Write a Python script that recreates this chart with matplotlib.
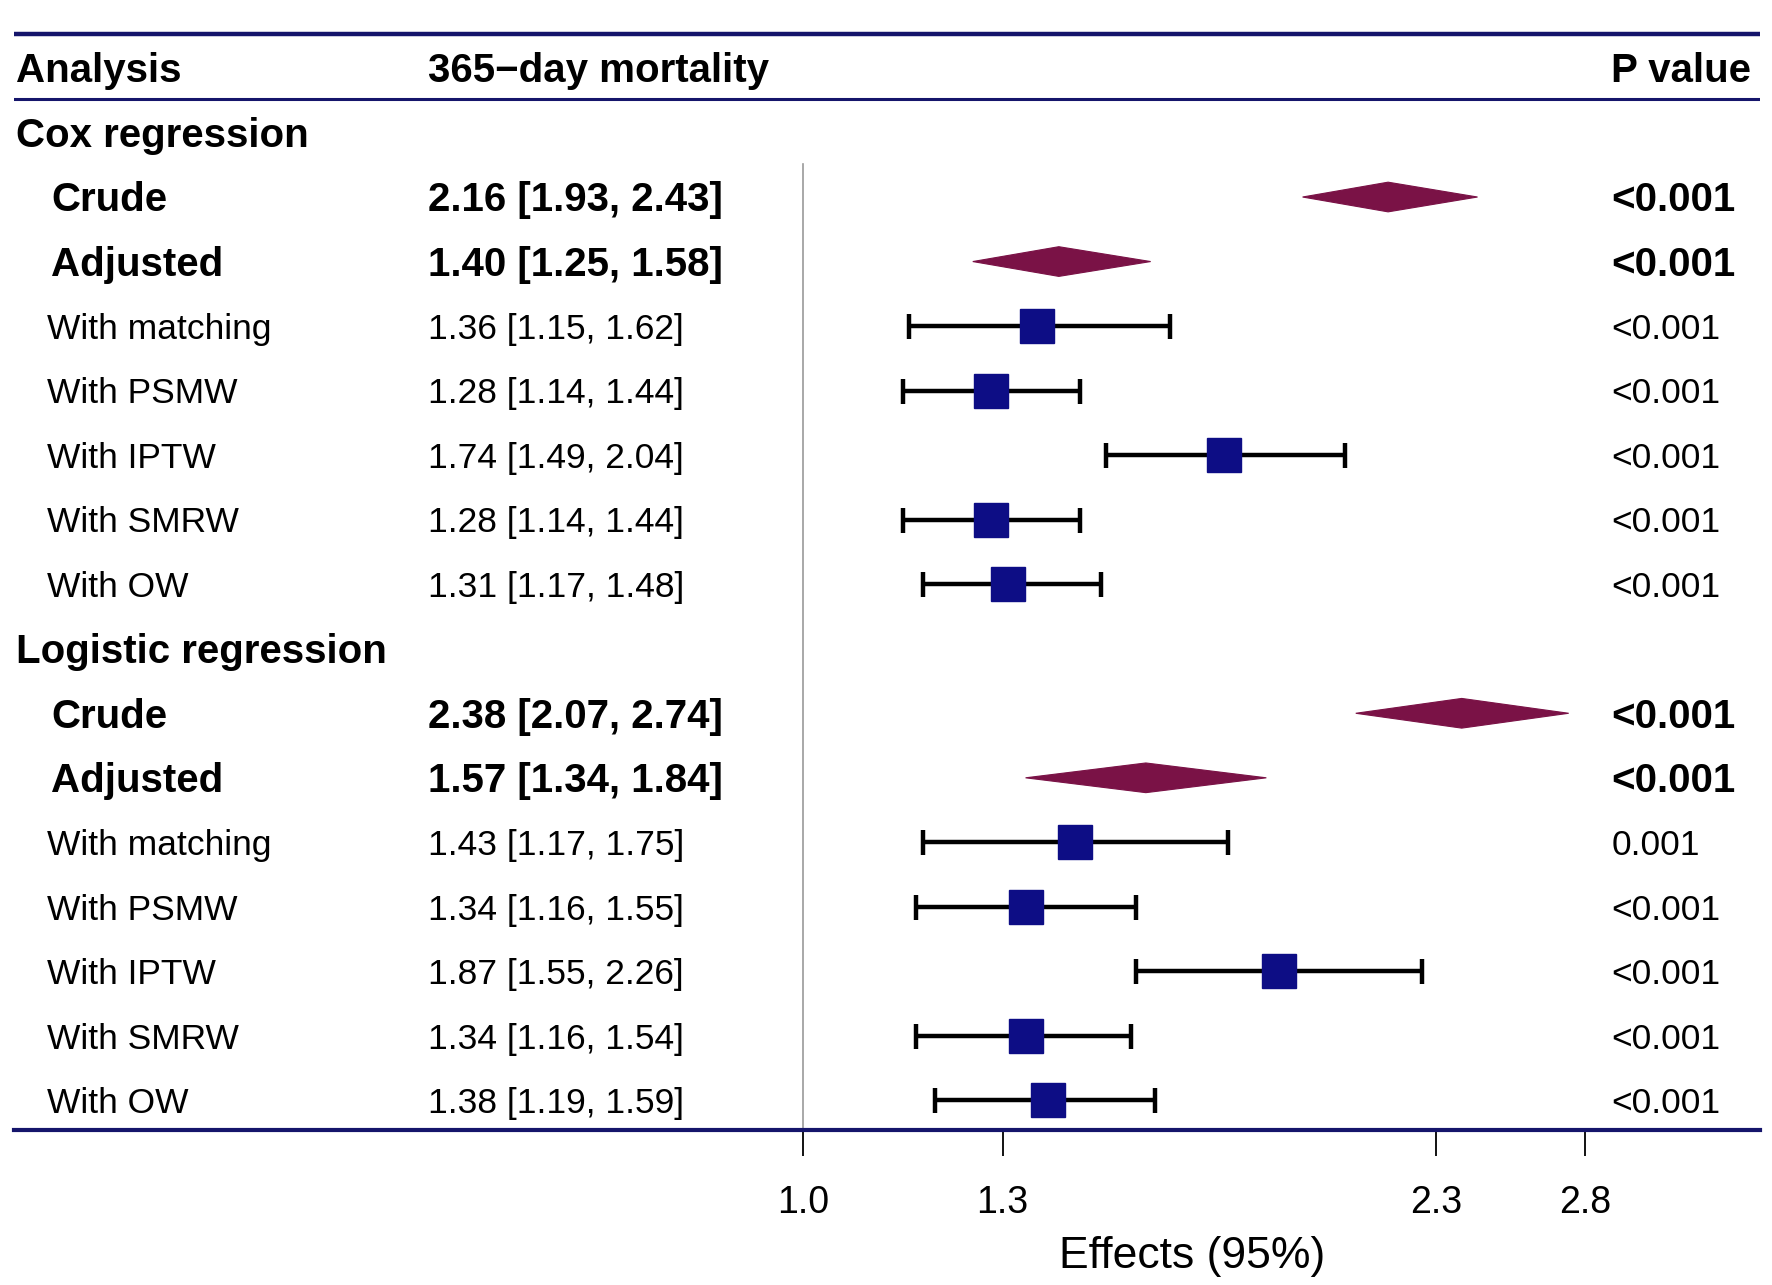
import numpy as np
import matplotlib
matplotlib.use("Agg")
import matplotlib.pyplot as plt

plt.rcParams['font.family'] = ['Liberation Sans', 'DejaVu Sans']

# dados da tabela (linha por linha, de cima para baixo)
labels = ['Cox regression', 'Crude', 'Adjusted', 'With matching', 'With PSMW',
          'With IPTW', 'With SMRW', 'With OW',
          'Logistic regression', 'Crude', 'Adjusted', 'With matching', 'With PSMW',
          'With IPTW', 'With SMRW', 'With OW']
kind = ['group', 'pooled', 'pooled', 'study', 'study', 'study', 'study', 'study',
        'group', 'pooled', 'pooled', 'study', 'study', 'study', 'study', 'study']
est = [np.nan, 2.16, 1.40, 1.36, 1.28, 1.74, 1.28, 1.31,
       np.nan, 2.38, 1.57, 1.43, 1.34, 1.87, 1.34, 1.38]
lo = [np.nan, 1.93, 1.25, 1.15, 1.14, 1.49, 1.14, 1.17,
      np.nan, 2.07, 1.34, 1.17, 1.16, 1.55, 1.16, 1.19]
hi = [np.nan, 2.43, 1.58, 1.62, 1.44, 2.04, 1.44, 1.48,
      np.nan, 2.74, 1.84, 1.75, 1.55, 2.26, 1.54, 1.59]
pvals = ['', '<0.001', '<0.001', '<0.001', '<0.001', '<0.001', '<0.001', '<0.001',
         '', '<0.001', '<0.001', '0.001', '<0.001', '<0.001', '<0.001', '<0.001']
headers = ['Analysis', '365\u2212day mortality', 'P value']
xticks = [1.0, 1.3, 2.3, 2.8]

navy = '#15156b'
square_col = '#0d0d85'
diamond_col = '#7a1246'

fig = plt.figure(figsize=(17.72, 12.85), dpi=100)
ax = fig.add_axes([0.00766, 0.1207, 0.9853, 0.8793])
ax.set_xscale('log')
ax.set_xlim(0.3534, 3.523)
ax.set_ylim(15.456, -2.053)

for s in ['top', 'left', 'right']:
    ax.spines[s].set_visible(False)
ax.spines['bottom'].set_color(navy)
ax.spines['bottom'].set_linewidth(3.0)
ax.set_yticks([])
ax.xaxis.set_minor_locator(matplotlib.ticker.NullLocator())
ax.set_xticks(xticks)
ax.set_xticklabels([f'{t:.1f}' for t in xticks], fontsize=27)
ax.tick_params(axis='x', length=19, width=1.3, color='black', pad=21)

# linhas do cabeçalho
ax.axhline(-1.526, color=navy, lw=3.2)
ax.axhline(-0.526, color=navy, lw=2.2)

# linha de referência em 1
ax.plot([1, 1], [0.49, 15.456], color='#9a9a9a', lw=1.2)

tr = ax.get_yaxis_transform()
bold_fs, reg_fs = 29, 25.5

def put(xf, y, s, fs, bold, **kw):
    cap = fs / 72 * 100 * 0.716 / (998 / 1135 * 1285) * 17.509
    ax.text(xf, y + cap / 2, s, transform=tr, fontsize=fs,
            fontweight='bold' if bold else 'normal', va='baseline',
            clip_on=False, **kw)

put(0.0013, -1, headers[0], bold_fs, True)
put(0.2372, -1, headers[1], bold_fs, True)
put(0.9151, -1, headers[2], bold_fs, True)

for i, lab in enumerate(labels):
    k = kind[i]
    if k == 'group':
        put(0.0013, i, lab, bold_fs, True)
        continue
    b = k == 'pooled'
    put(0.0214 if b else 0.0194, i, lab, bold_fs if b else reg_fs, b)
    put(0.2372, i, f'{est[i]:.2f} [{lo[i]:.2f}, {hi[i]:.2f}]',
        bold_fs if b else reg_fs, b)
    put(0.9151, i, pvals[i], bold_fs if b else reg_fs, b)
    if b:
        h = 0.23
        ax.fill([lo[i], est[i], hi[i], est[i]], [i, i - h, i, i + h],
                color=diamond_col, lw=0.8, zorder=3)
    else:
        ax.errorbar(est[i], i, xerr=[[est[i] - lo[i]], [hi[i] - est[i]]],
                    fmt='none', ecolor='black', elinewidth=3.2, capsize=9,
                    capthick=3.2, zorder=2)
        ax.plot(est[i], i, marker='s', ms=25, color=square_col,
                mec=square_col, zorder=3)

ax.set_xlabel('Effects (95%)', fontsize=32)
ax.xaxis.set_label_coords(0.675, -0.112)
ax.xaxis.label.set_va('center')

fig.savefig('out.png', dpi=100, facecolor='white')
